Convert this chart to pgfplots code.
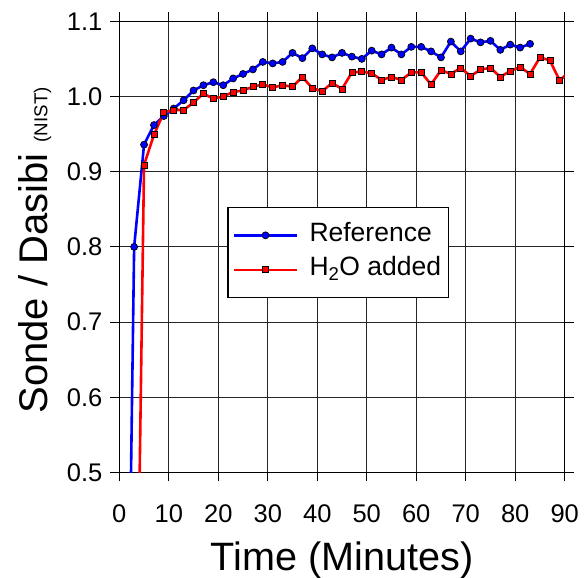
\documentclass[border=0pt]{standalone}
\usepackage{fontspec}
\setmainfont{Liberation Sans}
\usepackage{pgfplots}
\pgfplotsset{compat=1.18}

\begin{document}
\begin{tikzpicture}
\path[use as bounding box] (0,0) rectangle (584bp,578bp);
\begin{axis}[
  at={(119.3bp,105.5bp)}, anchor=south west,
  scale only axis, width=445.4bp, height=451.2bp,
  xmin=0, xmax=90, ymin=0.5, ymax=1.1,
  xtick={0,10,...,90}, ytick={0.5,0.6,...,1.1},
  grid=major, grid style={black!85, line width=1bp},
  axis line style={black, line width=1bp},
  tick align=outside, major tick length=9bp,
  tick style={black, line width=1bp},
  /pgf/number format/assume math mode=true,
  ticklabel style={font=\fontsize{25.5bp}{30bp}\selectfont},
  xticklabel style={yshift=-20bp},
  yticklabel style={xshift=-4.5bp, /pgf/number format/fixed,
    /pgf/number format/precision=1, /pgf/number format/fixed zerofill},
  xlabel={Time (Minutes)},
  xlabel style={at={(axis description cs:0.5,-0.2168)}, anchor=base,
    font=\fontsize{39.6bp}{48bp}\selectfont},
  ylabel={Sonde / Dasibi {\fontsize{18.7bp}{20bp}\selectfont (NIST)}},
  ylabel style={at={(axis description cs:-0.1617,0.492)}, anchor=base,
    rotate=0, font=\fontsize{40bp}{48bp}\selectfont},
  legend style={at={(axis description cs:0.2425,0.5878)}, anchor=north west,
    draw=black, line width=1.2bp, fill=white,
    font=\fontsize{26.5bp}{30bp}\selectfont,
    inner xsep=4.7bp, inner ysep=3bp, row sep=-14.4bp, column sep=8bp,
    nodes={inner sep=3bp, text height=27.5bp, text depth=15.4bp}},
  legend cell align=left,
  legend image code/.code={\draw[mark repeat=2,mark phase=2,#1,line width=2.6bp]
    plot coordinates {(0bp,0bp)(31.6bp,0bp)(63.3bp,0bp)};},
]
% Reference
\addplot[blue, line width=2.6bp, mark=*, mark size=3.5bp,
  mark options={fill=blue, draw=black, line width=0.7bp}] coordinates {
(1,-0.15)(3,0.800)(5,0.936)(7,0.962)(9,0.974)(11,0.984)(13,0.995)(15,1.008)
(17,1.015)(19,1.019)(21,1.015)(23,1.024)(25,1.030)(27,1.036)(29,1.046)
(31,1.044)(33,1.046)(35,1.058)(37,1.051)(39,1.064)(41,1.056)(43,1.052)
(45,1.058)(47,1.053)(49,1.050)(51,1.061)(53,1.056)(55,1.065)(57,1.056)
(59,1.066)(61,1.066)(63,1.060)(65,1.052)(67,1.073)(69,1.060)(71,1.077)
(73,1.072)(75,1.074)(77,1.062)(79,1.069)(81,1.065)(83,1.070)
};
\addlegendentry{Reference}
% H2O added
\addplot[red, line width=2.6bp, mark=square*, mark size=3bp,
  mark options={fill=red, draw=black, line width=0.7bp}] coordinates {
(3,-0.02)(5,0.909)(7,0.949)(9,0.979)(11,0.982)(13,0.982)(15,0.992)
(17,1.004)(19,0.997)(21,1.000)(23,1.006)(25,1.008)(27,1.013)(29,1.016)
(31,1.012)(33,1.015)(35,1.013)(37,1.026)(39,1.011)(41,1.007)(43,1.018)
(45,1.010)(47,1.032)(49,1.033)(51,1.031)(53,1.022)(55,1.026)(57,1.022)
(59,1.032)(61,1.032)(63,1.016)(65,1.035)(67,1.030)(69,1.038)(71,1.027)
(73,1.036)(75,1.038)(77,1.026)(79,1.034)(81,1.039)(83,1.030)(85,1.052)
(87,1.048)(89,1.021)(91,1.034)
};
\addlegendentry{H\textsubscript{2}O added}
\end{axis}
\end{tikzpicture}
\end{document}
